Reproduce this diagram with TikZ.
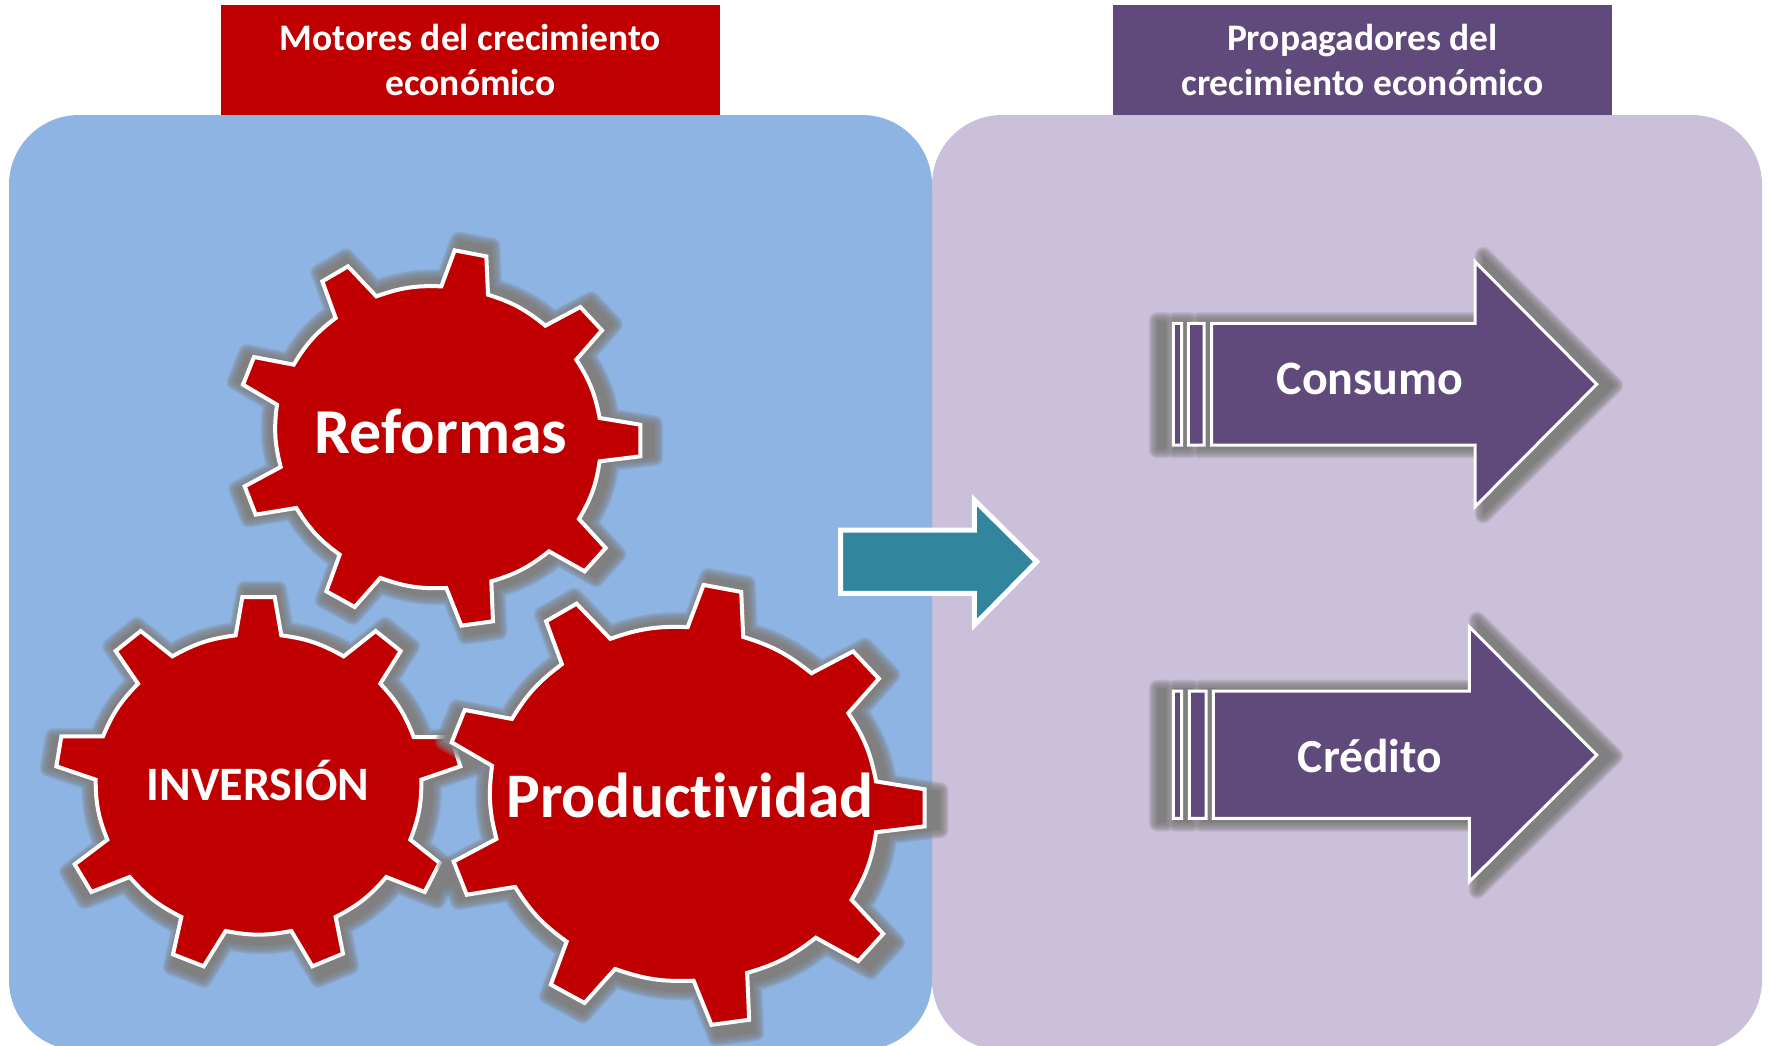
\documentclass[tikz,border=0pt]{standalone}
\usepackage{fontspec}
\setmainfont[Ligatures=NoCommon]{Carlito}
\usetikzlibrary{positioning}
\definecolor{motorred}{HTML}{C00000}
\definecolor{propviolet}{HTML}{604A7B}
\definecolor{panelblue}{HTML}{8EB4E3}
\definecolor{panellilac}{HTML}{CBC0DA}
\definecolor{linkteal}{HTML}{31859C}
\definecolor{softgray}{HTML}{808080}
\tikzset{
  rim/.style={bend left=11},
  panel/.style={rounded corners=70pt},
  header/.style={minimum width=499pt, minimum height=110pt, inner sep=0pt, text=white,
    align=center, font=\fontsize{37.5}{45}\selectfont\bfseries},
  gearbody/.style={fill=motorred, draw=white, line width=4pt, line join=miter},
  arrowbody/.style={fill=propviolet, draw=white, line width=3pt, line join=miter},
  linkbody/.style={fill=linkteal, draw=white, line width=5pt, line join=miter},
  shadowedge/.style={draw=softgray, draw opacity=.2, line join=round},
  shadowcore/.style={fill=softgray},
  label/.style={anchor=base, text=white}
}
\newcommand{\softshadow}[1]{%
  \foreach \blur in {17,15,13,11,9,7,5,3} {\path [shadowedge, line width=\blur pt] #1;}
  \path [shadowcore] #1;}
\newcommand{\gearnine}{(665,170) -- (705,62) -- (800,80) -- (805,195) to [rim] (977,288)
  -- (1082,232) -- (1147,302) -- (1070,390) to [rim] (1140,565)
  -- (1262,585) -- (1262,680) -- (1140,695) to [rim] (1078,868)
  -- (1158,955) -- (1095,1025) -- (988,965) to [rim] (815,1055)
  -- (820,1175) -- (725,1188) -- (680,1075) to [rim] (482,1045)
  -- (405,1132) -- (320,1085) -- (360,975) to [rim] (230,835)
  -- (108,855) -- (75,770) -- (183,712) to [rim] (172,525)
  -- (70,465) -- (103,382) -- (222,405) to [rim] (348,265)
  -- (308,155) -- (385,110) -- (470,200) to [rim] (665,170) -- cycle}
\newcommand{\gearupright}{(588,165) -- (608,50) -- (705,50) -- (725,165) to [rim] (912,228)
  -- (1008,152) -- (1083,212) -- (1022,310) to [rim] (1122,470)
  -- (1235,470) -- (1262,558) -- (1145,598) to [rim] (1112,778)
  -- (1200,848) -- (1155,935) -- (1040,890) to [rim] (888,1010)
  -- (910,1120) -- (818,1158) -- (755,1052) to [rim] (558,1052)
  -- (492,1158) -- (400,1122) -- (425,1010) to [rim] (270,890)
  -- (155,935) -- (105,852) -- (203,778) to [rim] (168,598)
  -- (50,558) -- (65,468) -- (190,468) to [rim] (295,310)
  -- (228,212) -- (303,152) -- (398,228) to [rim] (588,165) -- cycle}
\newcommand{\consumoarrow}{(1211.7,323.3) -- (1475,323.3) -- (1475,261.7) -- (1596.7,384.3)
  -- (1475,506.7) -- (1475,445) -- (1211.7,445) -- cycle
  (1188.3,323.3) rectangle (1204,445)
  (1173.3,323.3) rectangle (1181.7,445)}
\newcommand{\creditoarrow}{(1213.3,691) -- (1469.3,691) -- (1469.3,626.7) -- (1596.7,755)
  -- (1469.3,881.7) -- (1469.3,818.3) -- (1213.3,818.3) -- cycle
  (1189.3,691) rectangle (1206,818.3)
  (1173.3,691) rectangle (1181.7,818.3)}
\begin{document}
\begin{tikzpicture}[x=1pt, y=-1pt]
  \useasboundingbox (0,0) rectangle (1769,1045);
  \node (motores) [header, fill=motorred] at (470.5,60)
    {Motores del crecimiento\\económico};
  \node (propagadores) [header, fill=propviolet] at (1362.5,60)
    {Propagadores del\\crecimiento económico};
  \path [panel, fill=panellilac] (932,115) rectangle (1762,1050);
  \path [panel, fill=panelblue] (9,115) rectangle (932,1050);
  \begin{scope}[shift={(441,437)}, scale=.352, shift={(-655,-622)}]
    \softshadow{\gearnine}
  \end{scope}
  \begin{scope}[shift={(438,437)}, scale=.3333, shift={(-655,-622)}]
    \path [gearbody] \gearnine;
  \end{scope}
  \begin{scope}[shift={(261,790)}, scale=.352, shift={(-655,-620)}]
    \softshadow{\gearupright}
  \end{scope}
  \begin{scope}[shift={(258,787)}, scale=.3333, shift={(-655,-620)}]
    \path [gearbody] \gearupright;
  \end{scope}
  \begin{scope}[shift={(687,806)}, xscale=.417, yscale=.41, shift={(-655,-622)}]
    \softshadow{\gearnine}
  \end{scope}
  \begin{scope}[shift={(683.7,803.7)}, xscale=.3967, yscale=.3907, shift={(-655,-622)}]
    \path [gearbody] \gearnine;
  \end{scope}
  \path [linkbody] (840.7,530) -- (974.3,530) -- (974.3,500) -- (1036.7,561.7)
    -- (974.3,625) -- (974.3,593.3) -- (840.7,593.3) -- cycle;
  \begin{scope}[shift={(1386,385)}, xscale=1.08, yscale=1.06, shift={(-1385,-384)}]
    \softshadow{\consumoarrow}
  \end{scope}
  \path [arrowbody] \consumoarrow;
  \begin{scope}[shift={(1386,756)}, xscale=1.08, yscale=1.06, shift={(-1385,-755)}]
    \softshadow{\creditoarrow}
  \end{scope}
  \path [arrowbody] \creditoarrow;
  \node (reformas) [label, font=\fontsize{64}{64}\selectfont\bfseries] at (441,453.7) {Reformas};
  \node (inversion) [label, font=\fontsize{48}{48}\selectfont\bfseries] at (258,800) {INVERSIÓN};
  \node (productividad) [label, font=\fontsize{63.5}{64}\selectfont\bfseries] at (690,817) {Productividad};
  \node (consumo) [label, font=\fontsize{48}{48}\selectfont\bfseries] at (1370,394) {Consumo};
  \node (credito) [label, font=\fontsize{47.5}{48}\selectfont\bfseries] at (1370,772) {Crédito};
\end{tikzpicture}
\end{document}
